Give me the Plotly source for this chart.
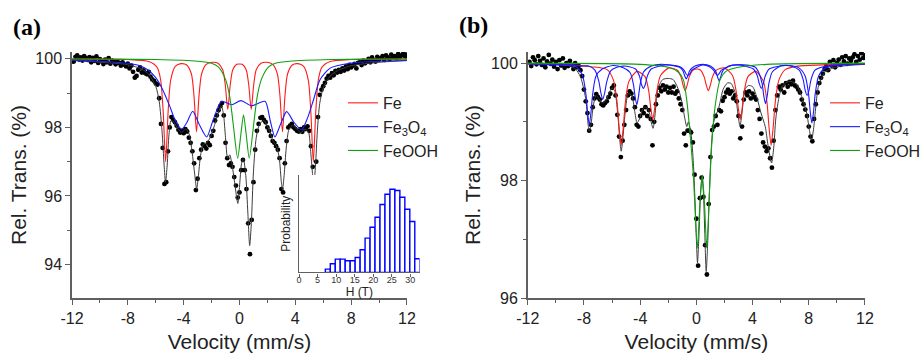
import plotly.graph_objects as go

# ---------------- velocity channels (mm/s) ----------------
velocity = [
    -11.875, -11.75, -11.625, -11.5, -11.375, -11.25, -11.125, -11.0,
    -10.875, -10.75, -10.625, -10.5, -10.375, -10.25, -10.125, -10.0,
    -9.875, -9.75, -9.625, -9.5, -9.375, -9.25, -9.125, -9.0,
    -8.875, -8.75, -8.625, -8.5, -8.375, -8.25, -8.125, -8.0,
    -7.875, -7.75, -7.625, -7.5, -7.375, -7.25, -7.125, -7.0,
    -6.875, -6.75, -6.625, -6.5, -6.375, -6.25, -6.125, -6.0,
    -5.875, -5.75, -5.625, -5.5, -5.375, -5.25, -5.125, -5.0,
    -4.875, -4.75, -4.625, -4.5, -4.375, -4.25, -4.125, -4.0,
    -3.875, -3.75, -3.625, -3.5, -3.375, -3.25, -3.125, -3.0,
    -2.875, -2.75, -2.625, -2.5, -2.375, -2.25, -2.125, -2.0,
    -1.875, -1.75, -1.625, -1.5, -1.375, -1.25, -1.125, -1.0,
    -0.875, -0.75, -0.625, -0.5, -0.375, -0.25, -0.125, 0.0,
    0.125, 0.25, 0.375, 0.5, 0.625, 0.75, 0.875, 1.0,
    1.125, 1.25, 1.375, 1.5, 1.625, 1.75, 1.875, 2.0,
    2.125, 2.25, 2.375, 2.5, 2.625, 2.75, 2.875, 3.0,
    3.125, 3.25, 3.375, 3.5, 3.625, 3.75, 3.875, 4.0,
    4.125, 4.25, 4.375, 4.5, 4.625, 4.75, 4.875, 5.0,
    5.125, 5.25, 5.375, 5.5, 5.625, 5.75, 5.875, 6.0,
    6.125, 6.25, 6.375, 6.5, 6.625, 6.75, 6.875, 7.0,
    7.125, 7.25, 7.375, 7.5, 7.625, 7.75, 7.875, 8.0,
    8.125, 8.25, 8.375, 8.5, 8.625, 8.75, 8.875, 9.0,
    9.125, 9.25, 9.375, 9.5, 9.625, 9.75, 9.875, 10.0,
    10.125, 10.25, 10.375, 10.5, 10.625, 10.75, 10.875, 11.0,
    11.125, 11.25, 11.375, 11.5, 11.625, 11.75, 11.875, 12.0,
]

# ---------------- panel (a): measured relative transmission (%) ----------------
trans_a = [
    99.92, 100.06, 100.10, 99.98, 100.04, 99.95, 100.08, 100.02,
    99.97, 100.05, 99.90, 100.03, 99.94, 100.07, 99.88, 99.99,
    99.93, 99.85, 99.98, 99.90, 100.02, 99.86, 99.95, 99.91,
    99.84, 99.92, 99.88, 99.80, 99.90, 99.83, 99.78, 99.86,
    99.72, 99.80, 99.62, 99.45, 99.50, 99.68, 99.75, 99.60,
    99.66, 99.58, 99.55, 99.62, 99.48, 99.40, 99.36, 99.28,
    99.25, 98.85, 98.10, 97.40, 96.35, 96.40, 97.30, 98.00,
    98.30, 98.22, 98.15, 98.05, 97.93, 97.85, 97.90, 97.83,
    97.95, 97.88, 97.70, 97.55, 97.30, 96.95, 96.17, 96.50,
    97.10, 97.35, 97.50, 97.45, 97.38, 97.55, 97.48, 97.75,
    97.90, 98.20, 98.35, 98.50, 98.62, 98.71, 98.35, 97.55,
    97.10, 96.90, 96.95, 96.85, 96.55, 96.30, 95.95, 96.10,
    96.75, 97.05, 96.75, 96.20, 95.20, 94.30, 95.30, 96.40,
    97.35, 97.90, 98.10, 98.28, 98.30, 98.22, 98.15, 98.00,
    97.90, 97.75, 97.60, 97.55, 97.45, 97.35, 97.10, 96.20,
    96.10, 96.95, 97.60, 98.00, 98.05, 98.10, 98.00, 97.95,
    97.90, 97.88, 97.95, 97.87, 98.00, 97.95, 98.03, 97.90,
    97.45, 96.85, 96.10, 97.00, 98.30, 98.95, 99.10, 99.20,
    99.30, 99.42, 99.50, 99.45, 99.58, 99.52, 99.65, 99.60,
    99.68, 99.62, 99.72, 99.66, 99.78, 99.70, 99.82, 99.75,
    99.80, 99.85, 99.72, 99.88, 99.90, 99.82, 99.95, 99.87,
    99.93, 100.00, 99.90, 100.04, 99.96, 99.92, 100.06, 99.98,
    100.02, 100.08, 99.97, 100.10, 100.04, 99.99, 100.12, 100.05,
    100.08, 100.02, 100.14, 100.06, 100.10, 100.16, 100.07, 100.12,
]

# panel (a): total fit
fit_a_v = [-12, -10, -8, -7, -6.5, -6.0, -5.75, -5.55, -5.4, -5.3, -5.18, -5.05, -4.9, -4.7,
           -4.4, -4.15, -3.85, -3.6, -3.4, -3.2, -3.07, -2.95, -2.8, -2.6, -2.35, -2.1, -1.8,
           -1.5, -1.3, -1.15, -1.0, -0.85, -0.7, -0.55, -0.35, -0.12, 0.0, 0.15, 0.28, 0.45,
           0.6, 0.73, 0.85, 1.0, 1.2, 1.45, 1.75, 2.1, 2.4, 2.65, 2.85, 3.0, 3.08, 3.2, 3.35,
           3.55, 3.8, 4.1, 4.4, 4.7, 4.95, 5.1, 5.22, 5.32, 5.45, 5.58, 5.75, 6.0, 6.5, 7.0,
           8.0, 10, 12]
fit_a_t = [99.96, 99.90, 99.83, 99.70, 99.55, 99.20, 98.75, 97.90, 96.90, 96.40, 96.90, 97.80,
           98.20, 98.15, 97.95, 97.85, 97.95, 97.80, 97.30, 96.60, 96.20, 96.55, 97.15, 97.50,
           97.55, 97.70, 98.05, 98.45, 98.62, 98.40, 97.70, 97.10, 97.20, 96.95, 96.40, 95.78,
           96.25, 96.95, 97.08, 96.60, 95.50, 94.55, 95.20, 96.70, 97.70, 98.10, 98.20, 97.95,
           97.60, 97.45, 97.10, 96.40, 96.18, 96.60, 97.40, 97.95, 98.05, 97.95, 97.85, 97.95,
           97.85, 97.30, 96.70, 96.30, 96.90, 97.90, 98.70, 99.15, 99.50, 99.65, 99.80, 99.90,
           99.95]

# panel (a): Fe component
fe_a_v = [-12, -8, -6.5, -5.9, -5.65, -5.47, -5.29, -5.11, -4.93, -4.6, -4.19, -3.78, -3.44,
          -3.26, -3.08, -2.9, -2.72, -2.4, -1.96, -1.54, -1.2, -1.02, -0.84, -0.66, -0.48,
          -0.2, 0, 0.2, 0.48, 0.66, 0.84, 1.02, 1.2, 1.54, 1.96, 2.4, 2.72, 2.9, 3.08, 3.26,
          3.44, 3.78, 4.19, 4.6, 4.93, 5.11, 5.29, 5.47, 5.65, 5.9, 6.5, 8, 12]
fe_a_t = [99.99, 99.98, 99.92, 99.75, 99.39, 98.49, 96.99, 98.48, 99.38, 99.78, 99.86, 99.82,
          99.55, 98.92, 97.87, 98.92, 99.55, 99.83, 99.90, 99.87, 99.68, 99.25, 98.52, 99.25,
          99.68, 99.84, 99.85, 99.84, 99.68, 99.25, 98.52, 99.25, 99.68, 99.87, 99.90, 99.83,
          99.55, 98.92, 97.87, 98.92, 99.55, 99.82, 99.86, 99.78, 99.38, 98.48, 96.99, 98.49,
          99.39, 99.75, 99.92, 99.98, 99.99]

# panel (a): Fe3O4 component (field distribution)
fe3o4_a_v = [-12, -10, -8, -7, -6.5, -6.0, -5.5, -5.0, -4.6, -4.15, -3.8, -3.35, -2.9, -2.35,
             -1.9, -1.28, -0.56, 0.1, 0.87, 1.83, 2.2, 2.54, 2.95, 3.38, 3.9, 4.45, 4.9, 5.3,
             5.77, 6.5, 7.9, 10, 12]
fe3o4_a_t = [99.97, 99.93, 99.87, 99.78, 99.66, 99.45, 99.10, 98.62, 98.20, 97.95, 98.12, 98.47,
             98.10, 97.72, 98.20, 98.76, 98.66, 98.78, 98.63, 98.76, 98.20, 97.72, 98.10, 98.46,
             98.15, 97.93, 98.30, 98.80, 99.39, 99.73, 99.87, 99.93, 99.95]

# panel (a): FeOOH component
feooh_a_v = [-12, -6, -3, -2, -1.5, -1.0, -0.7, -0.45, -0.13, 0.1, 0.29, 0.48, 0.70, 1.02,
             1.27, 1.57, 2.07, 2.57, 3.6, 6.6, 12]
feooh_a_t = [100.0, 99.98, 99.93, 99.87, 99.76, 99.40, 98.90, 98.10, 97.10, 97.80, 98.37, 97.80,
             97.10, 98.10, 98.90, 99.40, 99.76, 99.87, 99.93, 99.98, 100.0]

# ---------------- panel (b) ----------------
trans_b = [
    100.02, 99.95, 100.10, 100.05, 99.98, 100.12, 100.04, 99.97,
    100.08, 99.93, 100.03, 100.14, 99.99, 100.06, 99.94, 100.02,
    99.90, 100.05, 99.96, 100.08, 99.92, 100.00, 99.95, 100.04,
    99.97, 99.90, 100.00, 99.93, 99.95, 99.88, 99.78, 99.55,
    99.35, 99.15, 98.85, 98.95, 99.25, 99.40, 99.47, 99.42,
    99.38, 99.30, 99.28, 99.32, 99.35, 99.42, 99.48, 99.58,
    99.62, 99.45, 99.12, 98.75, 98.40, 98.68, 98.95, 99.20,
    99.45, 99.52, 99.48, 99.40, 99.25, 98.95, 98.92, 99.10,
    99.20, 99.15, 99.25, 99.10, 99.20, 99.05, 98.60, 99.00,
    99.30, 99.45, 99.58, 99.52, 99.62, 99.55, 99.60, 99.50,
    99.58, 99.50, 99.60, 99.48, 99.52, 99.40, 99.30, 99.20,
    98.80, 98.60, 98.85, 98.85, 98.82, 98.65, 98.10, 97.35,
    96.55, 97.70, 98.05, 97.72, 96.90, 96.40, 97.60, 98.40,
    98.86, 98.92, 99.10, 98.95, 99.20, 99.18, 99.36, 99.42,
    99.50, 99.55, 99.48, 99.52, 99.40, 99.45, 99.35, 99.10,
    98.72, 98.92, 99.38, 99.50, 99.45, 99.52, 99.40, 99.48,
    99.42, 99.38, 99.20, 99.05, 98.80, 98.65, 98.58, 98.50,
    98.55, 98.38, 98.22, 98.68, 99.20, 99.45, 99.60, 99.55,
    99.62, 99.50, 99.66, 99.60, 99.68, 99.64, 99.70, 99.62,
    99.60, 99.55, 99.50, 99.38, 99.30, 99.21, 99.10, 98.92,
    98.75, 98.67, 99.05, 99.30, 99.50, 99.66, 99.75, 99.82,
    99.90, 99.95, 99.88, 100.02, 99.96, 100.05, 99.93, 100.00,
    100.06, 99.97, 100.10, 100.03, 100.12, 99.99, 100.08, 100.04,
    100.10, 100.15, 100.02, 100.12, 100.06, 100.17, 100.09, 100.13,
]

fit_b_v = [-12, -10, -9, -8.6, -8.25, -8.0, -7.85, -7.7, -7.62, -7.5, -7.35, -7.15, -6.95, -6.7,
           -6.5, -6.25, -6.0, -5.8, -5.6, -5.45, -5.35, -5.22, -5.05, -4.85, -4.6, -4.4, -4.22,
           -4.05, -3.85, -3.65, -3.4, -3.2, -3.08, -2.95, -2.75, -2.4, -2.0, -1.65, -1.4, -1.2,
           -1.0, -0.8, -0.68, -0.57, -0.45, -0.33, -0.2, -0.08, 0.0, 0.08, 0.2, 0.3, 0.4, 0.5,
           0.6, 0.7, 0.8, 0.92, 1.05, 1.2, 1.35, 1.55, 1.7, 1.9, 2.2, 2.45, 2.75, 2.95, 3.1,
           3.25, 3.45, 3.7, 4.0, 4.3, 4.6, 4.9, 5.1, 5.35, 5.5, 5.65, 5.85, 6.1, 6.55, 7.05,
           7.5, 7.85, 8.05, 8.2, 8.35, 8.5, 8.7, 9.2, 10.1, 12]
fit_b_t = [99.99, 99.98, 99.95, 99.90, 99.77, 99.55, 99.35, 98.95, 98.84, 98.95, 99.25, 99.45,
           99.40, 99.32, 99.34, 99.47, 99.58, 99.52, 99.15, 98.70, 98.50, 98.75, 99.20, 99.48,
           99.45, 99.20, 98.98, 99.05, 99.20, 99.25, 99.20, 98.98, 98.89, 99.10, 99.55, 99.72,
           99.74, 99.72, 99.62, 99.50, 99.30, 99.03, 98.92, 99.00, 98.90, 98.69, 98.24, 97.55,
           97.00, 96.60, 97.16, 97.80, 98.05, 97.80, 97.10, 96.45, 96.90, 97.75, 98.50, 98.95,
           99.10, 99.20, 99.35, 99.55, 99.66, 99.66, 99.50, 99.15, 98.93, 99.15, 99.55, 99.62,
           99.60, 99.42, 99.15, 98.92, 98.60, 98.30, 98.55, 99.05, 99.38, 99.60, 99.69, 99.66,
           99.43, 99.15, 98.85, 98.69, 98.90, 99.26, 99.62, 99.86, 99.94, 99.98]

fe_b_v = [-12, -9, -7.5, -6.35, -5.9, -5.65, -5.5, -5.35, -5.2, -5.05, -4.8, -4.22, -3.65, -3.4,
          -3.25, -3.1, -2.95, -2.8, -2.55, -1.95, -1.35, -1.1, -0.95, -0.8, -0.65, -0.5, -0.25,
          0.03, 0.3, 0.55, 0.7, 0.85, 1.0, 1.15, 1.4, 1.98, 2.57, 2.82, 2.97, 3.12, 3.27, 3.42,
          3.67, 4.22, 4.77, 5.02, 5.17, 5.32, 5.47, 5.62, 5.87, 6.32, 7.2, 9, 12]
fe_b_t = [99.99, 99.97, 99.94, 99.89, 99.71, 99.35, 98.92, 98.60, 98.91, 99.34, 99.69, 99.86,
          99.77, 99.54, 99.25, 99.04, 99.26, 99.54, 99.79, 99.92, 99.88, 99.77, 99.63, 99.53,
          99.63, 99.77, 99.88, 99.90, 99.88, 99.77, 99.63, 99.53, 99.63, 99.77, 99.88, 99.92,
          99.79, 99.54, 99.26, 99.04, 99.25, 99.54, 99.77, 99.86, 99.69, 99.34, 98.91, 98.60,
          98.92, 99.35, 99.71, 99.89, 99.95, 99.97, 99.99]

fe3o4_b1_v = [-12, -10, -9.12, -8.52, -8.1, -7.86, -7.74, -7.62, -7.5, -7.38, -7.14, -6.7, -5.93,
              -5.2, -4.72, -4.48, -4.36, -4.24, -4.12, -4.0, -3.76, -3.2, -2.5, -1.5, -1.2, -0.96,
              -0.84, -0.72, -0.6, -0.48, -0.1, 0.45, 1.0, 1.38, 1.5, 1.62, 1.74, 1.86, 2.3, 3.27,
              4.2, 4.44, 4.68, 4.8, 4.92, 5.04, 5.16, 5.4, 6.0, 6.57, 7.3, 7.74, 7.98, 8.1, 8.22,
              8.34, 8.46, 8.7, 9.12, 10, 12]
fe3o4_b1_t = [99.99, 99.97, 99.97, 99.93, 99.79, 99.47, 99.16, 98.95, 99.16, 99.47, 99.78, 99.90,
              99.96, 99.92, 99.84, 99.64, 99.43, 99.29, 99.43, 99.64, 99.85, 99.95, 99.98, 99.95,
              99.93, 99.87, 99.79, 99.73, 99.79, 99.87, 99.95, 99.98, 99.95, 99.86, 99.77, 99.70,
              99.77, 99.86, 99.95, 99.97, 99.93, 99.84, 99.65, 99.44, 99.31, 99.44, 99.65, 99.85,
              99.95, 99.96, 99.92, 99.78, 99.48, 99.18, 98.98, 99.18, 99.48, 99.78, 99.91, 99.96,
              99.99]

fe3o4_b2_v = [-12, -9, -8.2, -7.66, -7.22, -6.94, -6.8, -6.66, -6.52, -6.38, -6.1, -5.66, -5.2,
              -4.77, -4.33, -4.05, -3.91, -3.77, -3.63, -3.49, -3.21, -2.2, -1.16, -0.88, -0.74,
              -0.6, -0.46, -0.32, 0.45, 0.94, 1.22, 1.36, 1.5, 1.64, 1.78, 2.5, 3.1, 3.62, 4.06,
              4.34, 4.48, 4.62, 4.76, 4.9, 5.18, 6.25, 6.88, 7.32, 7.6, 7.74, 7.88, 8.02, 8.16,
              8.44, 8.9, 10, 12]
fe3o4_b2_t = [99.99, 99.97, 99.95, 99.95, 99.88, 99.69, 99.50, 99.38, 99.50, 99.68, 99.87, 99.93,
              99.95, 99.94, 99.90, 99.78, 99.64, 99.57, 99.64, 99.78, 99.90, 99.97, 99.94, 99.88,
              99.82, 99.79, 99.82, 99.88, 99.97, 99.94, 99.88, 99.83, 99.79, 99.83, 99.88, 99.96,
              99.97, 99.94, 99.90, 99.78, 99.65, 99.57, 99.65, 99.78, 99.90, 99.96, 99.94, 99.88,
              99.72, 99.54, 99.45, 99.54, 99.72, 99.88, 99.93, 99.97, 99.99]

feooh_b_v = [-12, -4, -2, -1.3, -0.93, -0.7, -0.45, -0.21, 0.07, 0.25, 0.42, 0.58, 0.74, 0.95,
             1.1, 1.33, 1.69, 2.1, 3, 5, 12]
feooh_b_t = [100.0, 99.98, 99.93, 99.85, 99.72, 99.40, 98.80, 98.07, 96.85, 97.60, 98.10, 97.60,
             96.85, 97.90, 98.64, 99.26, 99.72, 99.86, 99.93, 99.98, 100.0]

# ---------------- inset: hyperfine field distribution ----------------
h_field = [7.76, 9.10, 10.44, 11.78, 13.12, 14.46, 15.80, 17.14, 18.48, 19.82, 21.16, 22.50,
           23.84, 25.18, 26.52, 27.86, 29.20, 30.54, 31.88]
probability = [0.040, 0.104, 0.160, 0.160, 0.140, 0.140, 0.180, 0.272, 0.412, 0.544, 0.664,
               0.816, 0.940, 1.000, 0.984, 0.904, 0.760, 0.612, 0.164]
bin_width = 1.34

vel_tickvals = [-12, -8, -4, 0, 4, 8, 12]
vel_ticktext = ['-12', '-8', '-4', '0', '4', '8', '12']
h_tickvals = [0, 5, 10, 15, 20, 25, 30]

RED, BLUE, GREEN, FITC = '#ff1a1a', '#1a1aff', '#10a010', '#3c3c3c'
AXC = '#606060'
FONT = 'Liberation Sans, Arial, sans-serif'

fig = go.Figure()

def spec_traces(v, t, fit_v, fit_t, comps, xa, ya, leg):
    fig.add_trace(go.Scatter(x=v, y=t, mode='markers', xaxis=xa, yaxis=ya,
                             marker=dict(color='black', size=4.8), showlegend=False))
    fig.add_trace(go.Scatter(x=fit_v, y=fit_t, mode='lines', xaxis=xa, yaxis=ya,
                             line=dict(color=FITC, width=1, shape='spline', smoothing=0.7),
                             showlegend=False))
    for rank, (cv, ct, name, col, show) in enumerate(comps):
        fig.add_trace(go.Scatter(x=cv, y=ct, mode='lines', xaxis=xa, yaxis=ya, name=name,
                                 legendgroup=leg + '_' + str(rank), showlegend=show, legend=leg,
                                 legendrank=rank + 1,
                                 line=dict(color=col, width=1.1, shape='spline', smoothing=0.7)))

spec_traces(velocity, trans_a, fit_a_v, fit_a_t,
            [(fe_a_v, fe_a_t, 'Fe', RED, True),
             (fe3o4_a_v, fe3o4_a_t, 'Fe<sub>3</sub>O<sub>4</sub>', BLUE, True),
             (feooh_a_v, feooh_a_t, 'FeOOH', GREEN, True)],
            'x', 'y', 'legend')
spec_traces(velocity, trans_b, fit_b_v, fit_b_t,
            [(fe_b_v, fe_b_t, 'Fe', RED, True),
             (fe3o4_b1_v, fe3o4_b1_t, 'Fe<sub>3</sub>O<sub>4</sub>', BLUE, True),
             (fe3o4_b2_v, fe3o4_b2_t, 'Fe<sub>3</sub>O<sub>4</sub>', BLUE, False),
             (feooh_b_v, feooh_b_t, 'FeOOH', GREEN, True)],
            'x2', 'y2', 'legend2')

fig.add_trace(go.Bar(x=h_field, y=probability, width=bin_width, xaxis='x3', yaxis='y3',
                     marker=dict(color='white', line=dict(color='#0000ff', width=1.4)),
                     showlegend=False))

axis_common = dict(showline=True, linecolor=AXC, linewidth=1.5, ticks='outside', ticklen=5,
                   tickwidth=1.2, tickcolor=AXC, showgrid=False, zeroline=False, mirror=False,
                   tickfont=dict(family=FONT, size=16, color='#222'))

def vel_axis(domain, anchor):
    return dict(axis_common, domain=domain, anchor=anchor, range=[-12, 12],
                tickmode='array', tickvals=vel_tickvals, ticktext=vel_ticktext,
                minor=dict(dtick=2, tick0=0, ticks='outside', ticklen=3, tickcolor=AXC,
                           showgrid=False),
                title=dict(text='Velocity (mm/s)', font=dict(family=FONT, size=21, color='#222'),
                           standoff=8))

def trans_axis(anchor, rng, tv, standoff):
    return dict(axis_common, domain=[0, 1], anchor=anchor, range=rng,
                tickmode='array', tickvals=tv, ticktext=[str(v) for v in tv],
                minor=dict(dtick=1, tick0=0, ticks='outside', ticklen=3, tickcolor=AXC,
                           showgrid=False),
                title=dict(text='Rel. Trans. (%)', font=dict(family=FONT, size=21, color='#222'),
                           standoff=standoff))

legend_common = dict(bgcolor='rgba(0,0,0,0)', borderwidth=0, xanchor='left', yanchor='top',
                     font=dict(family=FONT, size=16, color='#222'), tracegroupgap=0,
                     itemclick=False, itemdoubleclick=False)

label_font = dict(family='Liberation Serif, Times New Roman, serif', size=24, color='black')

fig.update_layout(
    width=923, height=354,
    margin=dict(l=72, r=58, t=52, b=56, autoexpand=False),
    paper_bgcolor='white', plot_bgcolor='white',
    hovermode=False,
    xaxis=vel_axis([0, 0.4224], 'y'),
    yaxis=trans_axis('x', [93.02, 100.2], [94, 96, 98, 100], 3),
    xaxis2=vel_axis([0.5747, 1.0], 'y2'),
    yaxis2=trans_axis('x2', [96.0, 100.19], [96, 98, 100], 5),
    xaxis3=dict(domain=[0.2863, 0.4383], anchor='y3', range=[0, 32.5], showline=True,
                linecolor=AXC, linewidth=1.2, ticks='outside', ticklen=3, tickcolor=AXC,
                tickmode='array', tickvals=h_tickvals, showgrid=False, zeroline=False,
                ticklabelstandoff=-4,
                tickfont=dict(family=FONT, size=9, color='#333'),
                title=dict(text='H (T)', font=dict(family=FONT, size=12, color='#222'),
                           standoff=0)),
    yaxis3=dict(domain=[0.1039, 0.5006], anchor='x3', range=[0, 1.173], showline=True,
                linecolor=AXC, linewidth=1.2, ticks='', showticklabels=False, showgrid=False,
                zeroline=False,
                title=dict(text='Probability', font=dict(family=FONT, size=12, color='#222'),
                           standoff=4)),
    legend=dict(legend_common, x=0.3417, y=0.862),
    legend2=dict(legend_common, x=0.9496, y=0.862),
    showlegend=True,
    annotations=[
        dict(text='<b>(a)</b>', xref='paper', yref='paper', x=-0.0567, y=1.1015,
             xanchor='center', yanchor='middle', showarrow=False, font=label_font),
        dict(text='<b>(b)</b>', xref='paper', yref='paper', x=0.5057, y=1.1096,
             xanchor='center', yanchor='middle', showarrow=False, font=label_font),
    ],
)

fig.write_html('out.html', config={'displayModeBar': False},
               post_script="document.body.style.margin='0px';"
                           "document.body.style.overflow='hidden';")
